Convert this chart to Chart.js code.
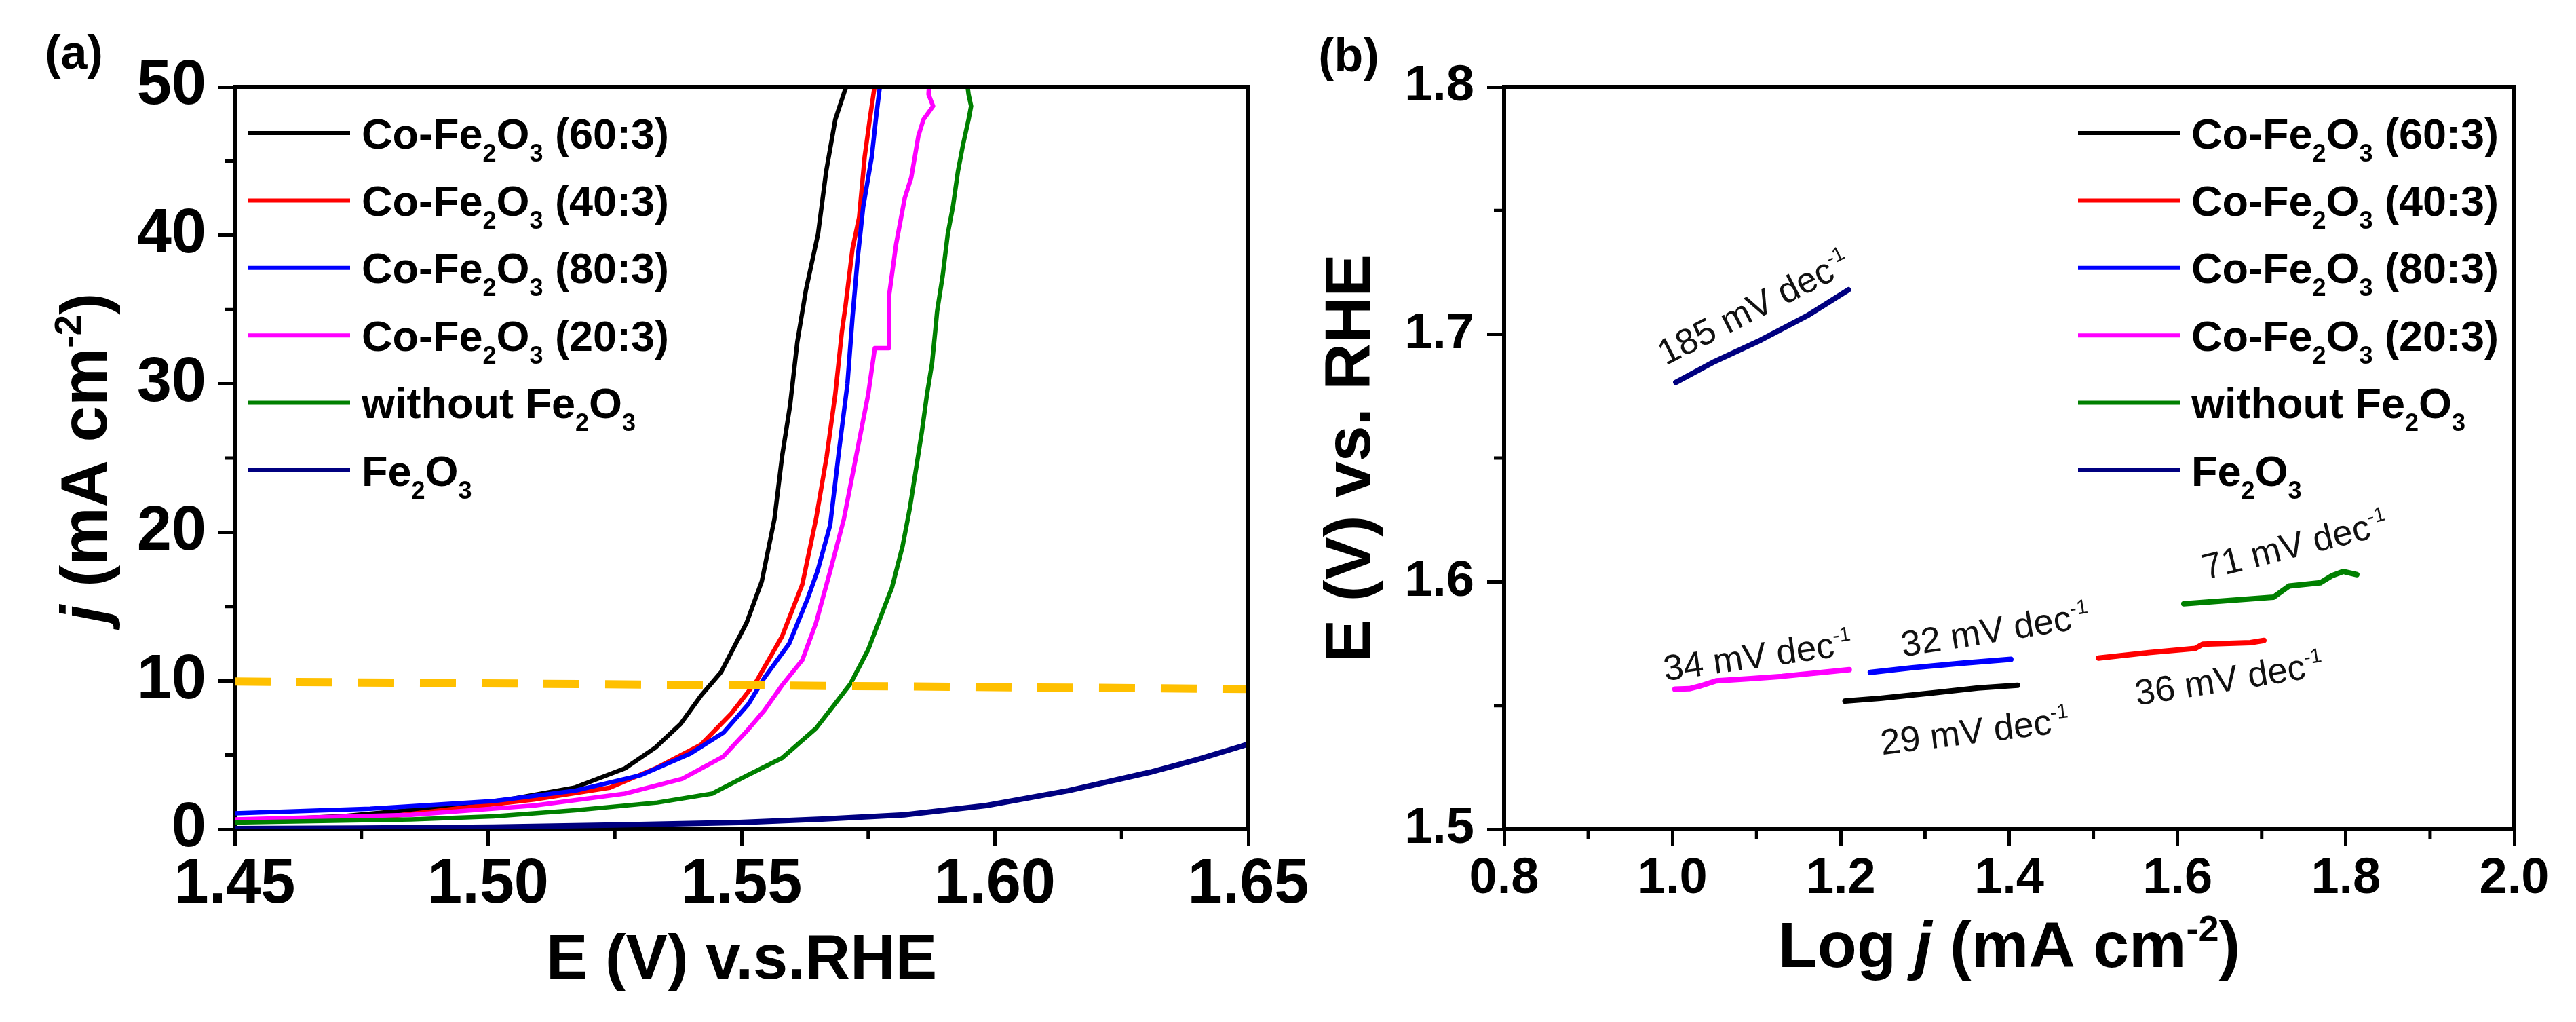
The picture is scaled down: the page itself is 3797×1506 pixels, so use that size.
<!DOCTYPE html>
<html>
<head>
<meta charset="utf-8">
<script src="https://cdn.jsdelivr.net/npm/chart.js@4.4.1/dist/chart.umd.min.js"></script>
<style>
  html, body { margin: 0; padding: 0; background: #ffffff; }
  body { width: 3797px; height: 1506px; overflow: hidden; position: relative; }
  .wrap { position: absolute; top: 0; }
</style>
</head>
<body>
<div class="wrap" style="left:0;width:1960px;height:1506px"><canvas id="ca" width="1960" height="1506"></canvas></div>
<div class="wrap" style="left:1898px;width:1899px;height:1506px"><canvas id="cb" width="1899" height="1506"></canvas></div>
<script>
// ---------------- DATA ----------------
const SERIES_NAMES = ['Co-Fe_2O_3 (60:3)', 'Co-Fe_2O_3 (40:3)', 'Co-Fe_2O_3 (80:3)', 'Co-Fe_2O_3 (20:3)', 'without Fe_2O_3', 'Fe_2O_3'];
const SERIES_COLORS = ['#000000', '#ff0000', '#0000ff', '#ff00ff', '#008000', '#000080'];

// Panel (a): LSV curves, E (V vs RHE) and j (mA cm^-2)
const A_E_6003 = [1.450, 1.460, 1.472, 1.488, 1.504, 1.517, 1.527, 1.533, 1.538, 1.542, 1.546, 1.551, 1.554, 1.5565, 1.558, 1.5596, 1.561, 1.5627, 1.5651, 1.5667, 1.5685, 1.5712];
const A_J_6003 = [0.55, 0.70, 0.90, 1.40, 2.00, 2.80, 4.10, 5.50, 7.10, 9.00, 10.6, 13.9, 16.7, 20.9, 25.1, 28.6, 32.8, 36.3, 40.1, 44.3, 47.8, 50.6];
const A_E_4003 = [1.450, 1.480, 1.509, 1.524, 1.533, 1.542, 1.548, 1.553, 1.558, 1.562, 1.5647, 1.5668, 1.5685, 1.5698, 1.5705, 1.5719, 1.5732, 1.5743, 1.5753, 1.5765];
const A_J_4003 = [0.60, 0.85, 2.00, 2.80, 4.10, 5.70, 7.80, 10.0, 13.0, 16.5, 20.9, 25.1, 29.3, 33.5, 35.2, 39.1, 41.2, 45.3, 47.8, 50.6];
const A_E_8003 = [1.450, 1.4767, 1.501, 1.5172, 1.5302, 1.5399, 1.5464, 1.5513, 1.5545, 1.5594, 1.5630, 1.5650, 1.5675, 1.5692, 1.5709, 1.5719, 1.5729, 1.5740, 1.5757, 1.5765, 1.5775];
const A_J_8003 = [1.07, 1.38, 1.90, 2.60, 3.65, 5.10, 6.50, 8.40, 10.2, 12.5, 15.5, 17.4, 20.5, 25.4, 30.0, 34.5, 38.4, 41.9, 45.3, 47.8, 50.6];
const A_E_2003 = [1.450, 1.4848, 1.5091, 1.527, 1.5383, 1.5464, 1.551, 1.5545, 1.558, 1.562, 1.5647, 1.5675, 1.5702, 1.5722, 1.5750, 1.5763, 1.5791, 1.5791, 1.5805, 1.5822, 1.5835, 1.5849, 1.5859, 1.5878, 1.5869, 1.5871];
const A_J_2003 = [0.66, 0.97, 1.60, 2.40, 3.40, 4.90, 6.60, 8.00, 9.70, 11.4, 13.9, 17.4, 20.9, 24.4, 29.3, 32.4, 32.4, 35.9, 39.4, 42.5, 43.9, 46.7, 47.8, 48.7, 49.5, 50.6];
const A_E_NOFE = [1.450, 1.4848, 1.501, 1.5172, 1.5334, 1.5442, 1.551, 1.558, 1.5647, 1.5688, 1.5715, 1.5750, 1.5770, 1.5797, 1.5818, 1.5832, 1.5845, 1.5856, 1.5866, 1.5876, 1.5883, 1.5886, 1.5897, 1.5907, 1.5917, 1.5927, 1.5937, 1.5948, 1.5953, 1.5948, 1.5944];
const A_J_NOFE = [0.46, 0.66, 0.87, 1.28, 1.80, 2.40, 3.60, 4.80, 6.80, 8.60, 9.80, 12.1, 13.9, 16.3, 19.1, 21.6, 24.4, 26.8, 29.3, 31.4, 33.8, 34.9, 37.3, 40.1, 41.9, 44.3, 46.1, 47.8, 48.7, 49.5, 50.6];
const A_E_FE = [1.450, 1.475, 1.501, 1.525, 1.5496, 1.5659, 1.5821, 1.5983, 1.6145, 1.6307, 1.640, 1.6487, 1.650];
const A_J_FE = [0.05, 0.08, 0.15, 0.28, 0.46, 0.68, 0.97, 1.60, 2.60, 3.85, 4.70, 5.60, 5.75];
const A_REF_E = [1.45, 1.65];
const A_REF_J = [9.95, 9.45];

const A_X_TICKS = [1.45, 1.50, 1.55, 1.60, 1.65];
const A_X_MINOR = [1.475, 1.525, 1.575, 1.625];
const A_Y_TICKS = [0, 10, 20, 30, 40, 50];
const A_Y_MINOR = [5, 15, 25, 35, 45];

// Panel (b): Tafel segments, log j and E
const B_X_6003 = [1.205, 1.247, 1.315, 1.363, 1.410];
const B_Y_6003 = [1.5518, 1.5529, 1.5553, 1.5571, 1.5582];
const B_X_4003 = [1.506, 1.566, 1.621, 1.630, 1.6865, 1.7026];
const B_Y_4003 = [1.5692, 1.5714, 1.5731, 1.5748, 1.5754, 1.5763];
const B_X_8003 = [1.235, 1.285, 1.344, 1.402];
const B_Y_8003 = [1.5634, 1.5653, 1.5671, 1.5687];
const B_X_2003 = [1.003, 1.020, 1.032, 1.052, 1.090, 1.130, 1.178, 1.210];
const B_Y_2003 = [1.5566, 1.5568, 1.5578, 1.5600, 1.5608, 1.5618, 1.5634, 1.5645];
const B_X_NOFE = [1.6075, 1.714, 1.7325, 1.7695, 1.783, 1.797, 1.813];
const B_Y_NOFE = [1.5911, 1.5938, 1.5983, 1.5996, 1.6024, 1.6042, 1.6029];
const B_X_FE = [1.004, 1.050, 1.105, 1.160, 1.209];
const B_Y_FE = [1.6806, 1.6890, 1.6977, 1.7075, 1.7180];

const B_X_TICKS = [0.8, 1.0, 1.2, 1.4, 1.6, 1.8, 2.0];
const B_X_MINOR = [0.9, 1.1, 1.3, 1.5, 1.7, 1.9];
const B_Y_TICKS = [1.5, 1.6, 1.7, 1.8];
const B_Y_MINOR = [1.55, 1.65, 1.75];

// Tafel slope labels (anchored in data coordinates)
const SLOPE_TEXT = ['185 mV dec^{-1}', '34 mV dec^{-1}', '32 mV dec^{-1}', '29 mV dec^{-1}', '36 mV dec^{-1}', '71 mV dec^{-1}'];
const SLOPE_AT_X = [1.096, 1.101, 1.383, 1.359, 1.661, 1.739];
const SLOPE_AT_Y = [1.7112, 1.5705, 1.5809, 1.5400, 1.5612, 1.6152];
const SLOPE_ANGLE = [-27, -8, -9, -7, -9, -14];

// ---------------- HELPERS ----------------
const FAM = '"Liberation Sans", Arial, sans-serif';
const pts = (xs, ys) => xs.map((x, i) => ({ x: x, y: ys[i] }));

function parseRich(str) {
  const out = []; let buf = '', it = false, i = 0;
  const push = (t, s, italic) => { if (t) out.push({ t: t, s: s, it: italic }); };
  while (i < str.length) {
    const c = str[i];
    if (c === '_') { push(buf, 'n', it); buf = ''; push(str[i + 1], 'sub', it); i += 2; continue; }
    if (c === '^' && str[i + 1] === '{') { push(buf, 'n', it); buf = ''; const j = str.indexOf('}', i); push(str.slice(i + 2, j), 'sup', it); i = j + 1; continue; }
    if (c === '*') { push(buf, 'n', it); buf = ''; it = !it; i++; continue; }
    buf += c; i++;
  }
  push(buf, 'n', it);
  return out;
}
function drawRich(ctx, str, x, y, o) {
  const size = o.size, weight = o.weight || 'bold';
  const parts = parseRich(str);
  const fontFor = p => (p.it ? 'italic ' : '') + weight + ' ' + (p.s === 'n' ? size : Math.round(size * 0.57)) + 'px ' + FAM;
  let w = 0;
  parts.forEach(p => { ctx.font = fontFor(p); p.w = ctx.measureText(p.t).width; w += p.w; });
  ctx.save();
  ctx.translate(x, y);
  ctx.rotate(o.angle || 0);
  ctx.fillStyle = o.color || '#000';
  ctx.textAlign = 'left';
  ctx.textBaseline = 'alphabetic';
  let cx = o.align === 'center' ? -w / 2 : (o.align === 'right' ? -w : 0);
  const base = o.vmid ? size * 0.36 : 0;
  parts.forEach(p => {
    ctx.font = fontFor(p);
    const dy = p.s === 'sub' ? size * 0.30 : (p.s === 'sup' ? -size * 0.40 : 0);
    ctx.fillText(p.t, cx, base + dy);
    cx += p.w;
  });
  ctx.restore();
}

function decorPlugin(cfg) {
  return {
    id: 'decor' + cfg.key,
    afterDraw(chart) {
      const ctx = chart.ctx, a = chart.chartArea;
      const xs = chart.scales.x, ys = chart.scales.y;
      ctx.save();
      // top & right frame
      ctx.strokeStyle = '#000'; ctx.lineWidth = 6; ctx.lineCap = 'square';
      ctx.beginPath();
      ctx.moveTo(a.left, a.top); ctx.lineTo(a.right, a.top); ctx.lineTo(a.right, a.bottom);
      ctx.stroke();
      // minor ticks
      ctx.lineWidth = 5; ctx.lineCap = 'butt';
      ctx.beginPath();
      cfg.xMinor.forEach(v => { const p = xs.getPixelForValue(v); ctx.moveTo(p, a.bottom); ctx.lineTo(p, a.bottom + 15); });
      cfg.yMinor.forEach(v => { const p = ys.getPixelForValue(v); ctx.moveTo(a.left, p); ctx.lineTo(a.left - 15, p); });
      ctx.stroke();
      // legend
      const ds = chart.data.datasets;
      SERIES_NAMES.forEach((name, i) => {
        const d = ds[i];
        const yy = a.top + 68 + i * 99.4;
        ctx.strokeStyle = d.borderColor; ctx.lineWidth = 6; ctx.lineCap = 'butt';
        ctx.beginPath(); ctx.moveTo(a.left + cfg.legX, yy); ctx.lineTo(a.left + cfg.legX + 150, yy); ctx.stroke();
        drawRich(ctx, name, a.left + cfg.legX + 167, yy, { size: 63, vmid: true });
      });
      // panel tag & axis titles
      drawRich(ctx, cfg.tag, cfg.tagX, cfg.tagY, { size: 70, align: 'center', vmid: true });
      drawRich(ctx, cfg.xTitle, (a.left + a.right) / 2, a.bottom + cfg.xTitleDy, { size: cfg.xTitleSize, align: 'center' });
      drawRich(ctx, cfg.yTitle, a.left - cfg.yTitleDx, (a.top + a.bottom) / 2, { size: cfg.yTitleSize, align: 'center', angle: -Math.PI / 2 });
      // slope annotations
      if (cfg.slopes) {
        SLOPE_TEXT.forEach((t, i) => {
          drawRich(ctx, t, xs.getPixelForValue(SLOPE_AT_X[i]), ys.getPixelForValue(SLOPE_AT_Y[i]),
            { size: 53, weight: 'normal', align: 'center', vmid: true, angle: SLOPE_ANGLE[i] * Math.PI / 180, color: '#111' });
        });
      }
      ctx.restore();
    }
  };
}

function makeScale(opt) {
  return {
    type: 'linear',
    min: opt.min, max: opt.max,
    afterBuildTicks: s => { s.ticks = opt.ticks.map(v => ({ value: v })); },
    afterFit: opt.fit,
    ticks: {
      autoSkip: false, maxRotation: 0, minRotation: 0,
      padding: opt.pad, color: '#000',
      font: { family: FAM, size: opt.fontSize, weight: 'bold' },
      callback: v => Number(v).toFixed(opt.dec)
    },
    grid: { display: true, drawOnChartArea: false, drawTicks: true, tickLength: 25, tickWidth: 5, tickColor: '#000', color: '#000' },
    border: { display: true, color: '#000', width: 6 }
  };
}

function lineDs(data, color, width, order) {
  return { data: data, borderColor: color, backgroundColor: color, borderWidth: width, pointRadius: 0, tension: 0, fill: false, order: order };
}

const baseOpts = {
  responsive: false, animation: false, devicePixelRatio: 1,
  parsing: true,
  plugins: { legend: { display: false }, tooltip: { enabled: false }, title: { display: false } },
  elements: { point: { radius: 0 }, line: { borderCapStyle: 'round', borderJoinStyle: 'round' } }
};

// ---------------- PANEL (a) ----------------
const aSeries = [
  pts(A_E_6003, A_J_6003), pts(A_E_4003, A_J_4003), pts(A_E_8003, A_J_8003),
  pts(A_E_2003, A_J_2003), pts(A_E_NOFE, A_J_NOFE), pts(A_E_FE, A_J_FE)
];
const aDatasets = aSeries.map((d, i) => lineDs(d, SERIES_COLORS[i], i === 5 ? 8 : 6.5, 6 - i));
const refDs = lineDs(pts(A_REF_E, A_REF_J), '#ffc000', 12, -1);
refDs.borderDash = [53, 38];
refDs.borderCapStyle = 'butt';
aDatasets.push(refDs);

new Chart(document.getElementById('ca'), {
  type: 'line',
  data: { datasets: aDatasets },
  options: Object.assign({}, baseOpts, {
    layout: { padding: { top: 128, right: 120, left: 0, bottom: 0 } },
    scales: {
      x: makeScale({ min: 1.45, max: 1.65, ticks: A_X_TICKS, dec: 2, fontSize: 92, pad: 2, fit: s => { s.height = 284; } }),
      y: makeScale({ min: 0, max: 50, ticks: A_Y_TICKS, dec: 0, fontSize: 92, pad: 17, fit: s => { s.width = 346; } })
    }
  }),
  plugins: [decorPlugin({
    key: 'a', xMinor: A_X_MINOR, yMinor: A_Y_MINOR, legX: 20,
    tag: '(a)', tagX: 109, tagY: 76,
    xTitle: 'E (V) v.s.RHE', xTitleSize: 92, xTitleDy: 220,
    yTitle: '*j* (mA cm^{-2})', yTitleSize: 96, yTitleDx: 189,
    slopes: false
  })]
});

// ---------------- PANEL (b) ----------------
const bSeries = [
  pts(B_X_6003, B_Y_6003), pts(B_X_4003, B_Y_4003), pts(B_X_8003, B_Y_8003),
  pts(B_X_2003, B_Y_2003), pts(B_X_NOFE, B_Y_NOFE), pts(B_X_FE, B_Y_FE)
];
const bDatasets = bSeries.map((d, i) => lineDs(d, SERIES_COLORS[i], 8, 6 - i));

new Chart(document.getElementById('cb'), {
  type: 'line',
  data: { datasets: bDatasets },
  options: Object.assign({}, baseOpts, {
    layout: { padding: { top: 128, right: 91, left: 0, bottom: 0 } },
    scales: {
      x: makeScale({ min: 0.8, max: 2.0, ticks: B_X_TICKS, dec: 1, fontSize: 74, pad: 4, fit: s => { s.height = 284; } }),
      y: makeScale({ min: 1.5, max: 1.8, ticks: B_Y_TICKS, dec: 1, fontSize: 74, pad: 19, fit: s => { s.width = 319; } })
    }
  }),
  plugins: [decorPlugin({
    key: 'b', xMinor: B_X_MINOR, yMinor: B_Y_MINOR, legX: 846,
    tag: '(b)', tagX: 90, tagY: 80,
    xTitle: 'Log *j* (mA cm^{-2})', xTitleSize: 95, xTitleDy: 203,
    yTitle: 'E (V) vs. RHE', yTitleSize: 95, yTitleDx: 198,
    slopes: true
  })]
});
</script>
</body>
</html>
